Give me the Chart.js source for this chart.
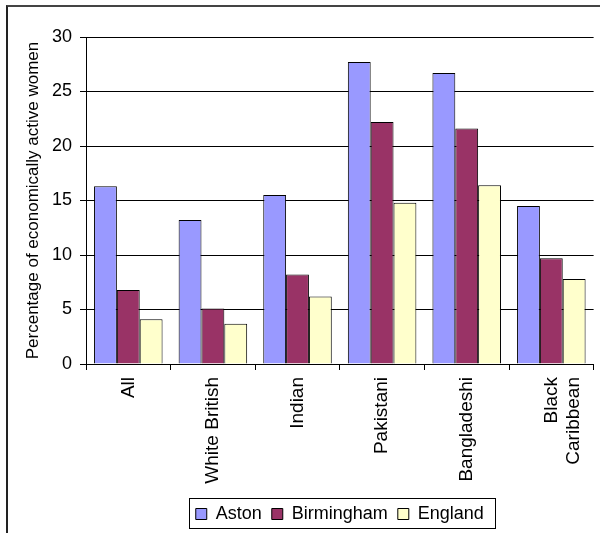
<!DOCTYPE html>
<html>
<head>
<meta charset="utf-8">
<script src="https://cdn.jsdelivr.net/npm/chart.js@4/dist/chart.umd.min.js"></script>
<style>
  html, body { margin: 0; padding: 0; background: #fff; overflow: hidden; }
  #wrap { position: relative; width: 600px; height: 533px; overflow: hidden; }
  #frame { position: absolute; left: 6px; top: 5px; width: 700px; height: 600px;
           border-top: 2px solid #444; border-left: 2px solid #222; }
  #chart { position: absolute; left: 0; top: 0; }
</style>
</head>
<body>
<div id="wrap">
  <div id="frame"></div>
  <canvas id="chart" width="604" height="533"></canvas>
</div>
<script>
const categories = ["All", "White British", "Indian", "Pakistani", "Bangladeshi", ["Black", "Caribbean"]];
const aston = [16.3, 13.2, 15.5, 27.7, 26.7, 14.5];
const birmingham = [6.8, 5.1, 8.2, 22.2, 21.6, 9.7];
const england = [4.1, 3.7, 6.2, 14.8, 16.4, 7.8];
const yTicks = [0, 5, 10, 15, 20, 25, 30];

Chart.defaults.font.family = "'Liberation Sans', Arial, sans-serif";
Chart.defaults.color = "#000";

// legend sits under the plot area (not the canvas) and gets a box round it
const legendBox = {
  id: "legendBox",
  afterLayout(chart) {
    const lg = chart.legend;
    const mid = (chart.chartArea.left + chart.chartArea.right) / 2;
    const shift = mid - (lg.left + lg.right) / 2;
    lg.left += shift;
    lg.right += shift;
  },
  afterDraw(chart) {
    const lg = chart.legend;
    const p = lg.options.labels.padding;
    const w = lg.lineWidths[0];
    const start = (lg.left + p + lg.right - w) / 2;
    const end = start + w - p;
    const ctx = chart.ctx;
    ctx.save();
    ctx.strokeStyle = "#000";
    ctx.lineWidth = 1;
    ctx.strokeRect(Math.round(start - 7) + 0.5, Math.round(lg.top + 3) + 0.5,
                   Math.round(end - start + 18), 30);
    ctx.restore();
  }
};

new Chart(document.getElementById("chart"), {
  type: "bar",
  data: {
    labels: categories,
    datasets: [
      { label: "Aston", data: aston, backgroundColor: "#9999ff" },
      { label: "Birmingham", data: birmingham, backgroundColor: "#993366" },
      { label: "England", data: england, backgroundColor: "#ffffcc" }
    ]
  },
  options: {
    responsive: false,
    animation: false,
    layout: { padding: { top: 37, left: 0, right: 1, bottom: 0 } },
    datasets: {
      bar: { borderColor: "#000", borderWidth: 1, barPercentage: 1, categoryPercentage: 0.81 }
    },
    plugins: {
      legend: {
        position: "bottom",
        labels: { boxWidth: 11, boxHeight: 11, padding: 10, font: { size: 18 } }
      },
      tooltip: { enabled: false }
    },
    scales: {
      x: {
        grid: { drawOnChartArea: false, drawTicks: true, tickLength: 6, color: "#000", offset: true },
        border: { color: "#000" },
        ticks: { minRotation: 90, maxRotation: 90, autoSkip: false, padding: 7, font: { size: 19 } },
        afterFit(scale) { scale.height = 131; }
      },
      y: {
        min: 0,
        max: 30,
        afterBuildTicks(scale) { scale.ticks = yTicks.map(v => ({ value: v })); },
        grid: { color: "#000", tickLength: 6 },
        border: { color: "#000" },
        ticks: { padding: 8, font: { size: 18 } },
        title: {
          display: true,
          text: "Percentage of economically active women",
          font: { size: 17 },
          padding: { top: 23, bottom: 0 }
        },
        afterFit(scale) { scale.width = 86; }
      }
    }
  },
  plugins: [legendBox]
});
</script>
</body>
</html>
